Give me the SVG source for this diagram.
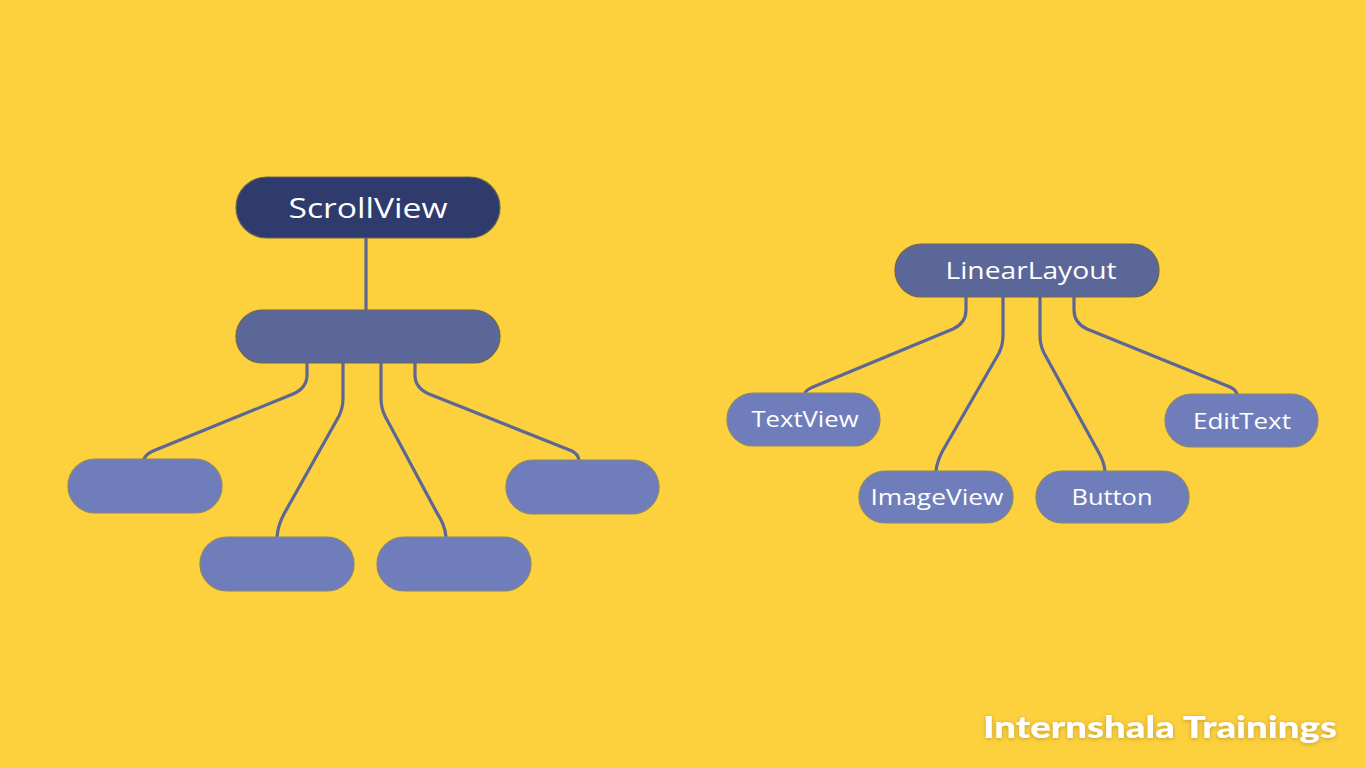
<svg xmlns="http://www.w3.org/2000/svg" width="1366" height="768" viewBox="0 0 1366 768">
<defs>
<style>
.bg{fill:#FDD03E}
.edge{fill:none;stroke:#5C6798;stroke-width:3.2;stroke-linejoin:round;stroke-linecap:round}
.dark{fill:#2E3B6C;stroke:#6b6650;stroke-width:1.2}
.mid{fill:#5C6799;stroke:#6b6650;stroke-width:1.2}
.light{fill:#6F7EBB;stroke:#8a8570;stroke-width:1.2}
.lbl{fill:#FFFFFF;font-family:"Open Sans","Noto Sans",sans-serif;font-weight:500;text-anchor:middle;dominant-baseline:central}
.wm{fill:#FFFFFF;font-family:"Lato","Open Sans",sans-serif;font-weight:900;font-size:31px}
</style>
<filter id="sh" x="-10%" y="-30%" width="120%" height="160%">
<feDropShadow dx="0" dy="1" stdDeviation="2" flood-color="#000" flood-opacity="0.25"/>
</filter>
</defs>
<rect class="bg" x="0" y="0" width="1366" height="768"/>
<g id="connectors">
<path class="edge" d="M366 238 V310"/>
<path class="edge" d="M307 363 V375 Q307 388 293 394 L153 451 Q146 454 144 459"/>
<path class="edge" d="M343 363 V398 Q343 408 339 416 L284 514 Q278 525 277 537"/>
<path class="edge" d="M381 363 V398 Q381 408 385 416 L437 513 Q445 525 446 537"/>
<path class="edge" d="M415 363 V375 Q415 388 429 394 L572 451 Q578 454 579 460"/>
<path class="edge" d="M966 297 V310 Q966 323 953 329 L813 387 Q806 390 805 393"/>
<path class="edge" d="M1003 297 V335 Q1003 345 999 353 L942 452 Q937 462 936 471"/>
<path class="edge" d="M1040 297 V335 Q1040 345 1044 353 L1099 453 Q1104 462 1105 471"/>
<path class="edge" d="M1074 297 V310 Q1074 323 1087 329 L1230 387 Q1236 390 1237 394"/>
</g>
<g id="scrollview">
<rect class="dark" x="236" y="177" width="264" height="61" rx="30.5"/>
<text class="lbl" x="368" y="207" font-size="28" textLength="159" lengthAdjust="spacingAndGlyphs">ScrollView</text>
</g>
<g id="container">
<rect class="mid" x="236" y="310" width="264" height="53" rx="26.5"/>
</g>
<g id="child1">
<rect class="light" x="68" y="459" width="154" height="54" rx="27"/>
</g>
<g id="child2">
<rect class="light" x="200" y="537" width="154" height="54" rx="27"/>
</g>
<g id="child3">
<rect class="light" x="377" y="537" width="154" height="54" rx="27"/>
</g>
<g id="child4">
<rect class="light" x="506" y="460" width="153" height="54" rx="27"/>
</g>
<g id="linearlayout">
<rect class="mid" x="895" y="244" width="264" height="53" rx="26.5"/>
<text class="lbl" x="1031" y="270" font-size="23.5" textLength="171" lengthAdjust="spacingAndGlyphs">LinearLayout</text>
</g>
<g id="textview">
<rect class="light" x="727" y="393" width="153" height="53" rx="26.5"/>
<text class="lbl" x="805" y="418" font-size="22.5" textLength="107" lengthAdjust="spacingAndGlyphs">TextView</text>
</g>
<g id="imageview">
<rect class="light" x="859" y="471" width="154" height="52" rx="26"/>
<text class="lbl" x="937" y="496" font-size="22.5" textLength="133" lengthAdjust="spacingAndGlyphs">ImageView</text>
</g>
<g id="button">
<rect class="light" x="1036" y="471" width="153" height="52" rx="26"/>
<text class="lbl" x="1112" y="496" font-size="22.5" textLength="81" lengthAdjust="spacingAndGlyphs">Button</text>
</g>
<g id="edittext">
<rect class="light" x="1165" y="394" width="153" height="53" rx="26.5"/>
<text class="lbl" x="1242" y="420" font-size="22.5" textLength="98" lengthAdjust="spacingAndGlyphs">EditText</text>
</g>
<text class="wm" x="983" y="738" filter="url(#sh)" textLength="354" lengthAdjust="spacingAndGlyphs">Internshala Trainings</text>
</svg>
